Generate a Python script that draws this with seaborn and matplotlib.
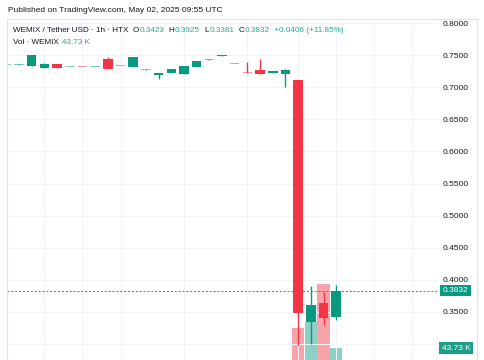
import matplotlib
matplotlib.use("Agg")
import matplotlib.pyplot as plt
import matplotlib.transforms as mtransforms
from matplotlib.lines import Line2D
import seaborn as sns
import numpy as np

# hourly candles, WEMIX / Tether USD (HTX)
opens = [0.7346, 0.7345, 0.7330, 0.7299, 0.7360, 0.7309, 0.7311, 0.7309, 0.7440,
         0.7329, 0.7320, 0.7272, 0.7190, 0.7217, 0.7200, 0.7310, 0.7428, 0.7486,
         0.7356, 0.7218, 0.7263, 0.7217, 0.7200, 0.7112, 0.3338, 0.3634, 0.3423]
highs = [0.7350, 0.7362, 0.7508, 0.7381, 0.7362, 0.7313, 0.7313, 0.7313, 0.7475,
         0.7333, 0.7470, 0.7276, 0.7220, 0.7286, 0.7333, 0.7414, 0.7432, 0.7509,
         0.7360, 0.7388, 0.7435, 0.7250, 0.7276, 0.7112, 0.3903, 0.3815, 0.3925]
lows = [0.7342, 0.7340, 0.7327, 0.7296, 0.7297, 0.7307, 0.7307, 0.7307, 0.7277,
        0.7327, 0.7318, 0.7270, 0.7123, 0.7215, 0.7198, 0.7308, 0.7426, 0.7484,
        0.7354, 0.7215, 0.7204, 0.7215, 0.6998, 0.2984, 0.3000, 0.3296, 0.3381]
closes = [0.7348, 0.7347, 0.7505, 0.7360, 0.7300, 0.7311, 0.7309, 0.7311, 0.7280,
          0.7331, 0.7466, 0.7274, 0.7217, 0.7283, 0.7330, 0.7410, 0.7430, 0.7506,
          0.7358, 0.7216, 0.7206, 0.7248, 0.7273, 0.3478, 0.3607, 0.3410, 0.3832]
volumes = [0.5] * 23 + [112.7, 136.2, 269.1, 43.73]  # thousands

price_ticks = [0.30, 0.35, 0.40, 0.45, 0.50, 0.55, 0.60, 0.65, 0.70, 0.75, 0.80]
tick_labels = ["", "0.3500", "0.4000", "0.4500", "0.5000", "0.5500", "0.6000",
               "0.6500", "0.7000", "0.7500", "0.8000"]  # 0.3000 sits under the volume tag
grid_idx = [3, 6, 9, 14, 19, 23, 26, 29, 32]
last_price = 0.3832
last_vol = 43.73

header = "Published on TradingView.com, May 02, 2025 09:55 UTC"
legend1 = [("WEMIX / Tether USD · 1h · HTX", "dark"), ("O", "dark"), ("0.3423", "teal"),
           ("H", "dark"), ("0.3925", "teal"), ("L", "dark"), ("0.3381", "teal"),
           ("C", "dark"), ("0.3832", "teal"), ("+0.0406 (+11.85%)", "teal")]
legend2 = [("Vol · WEMIX", "dark"), ("43.73 K", "teal")]

UP = "#089981"
DOWN = "#F23645"
UP_VOL = "#8ED0C5"
DOWN_VOL = "#F8A3A9"
DARK = "#131722"
TEAL_TXT = "#22AB94"
GRID = "#F0F3FA"
BORDER = "#E0E3EB"

sns.set_theme(style="white")
plt.rcParams['font.family'] = ['Liberation Sans', 'DejaVu Sans']

W, H = 485, 360
fig = plt.figure(figsize=(W / 100, H / 100), dpi=100)
fig.patch.set_facecolor("white")
rect = [7 / W, 0, 431 / W, 341 / H]

x = np.arange(len(opens))
o = np.array(opens)
c = np.array(closes)
up = c >= o

# volume pane (behind candles)
ax_vol = fig.add_axes(rect)
ax_vol.bar(x, volumes, width=0.97, color=np.where(up, UP_VOL, DOWN_VOL), linewidth=0)
ax_vol.set_ylim(0, last_vol * 341 / 12.3)
ax_vol.set_xlim(0.055, 34.02)
ax_vol.axis("off")

ax = fig.add_axes(rect, sharex=ax_vol)
ax.patch.set_visible(False)
for gi in grid_idx:
    ax.axvline(gi, color=GRID, lw=0.8, zorder=0)
for t in price_ticks:
    ax.axhline(t, color=GRID, lw=0.8, zorder=0)

cols = np.where(up, UP, DOWN)
ax.vlines(x, lows, highs, colors=cols, lw=1.0, zorder=2)
doji = np.abs(c - o) < 0.0016
body_h = np.maximum(np.abs(c - o), 0.0017)
body_b = np.minimum(o, c)
ax.bar(x[~doji], body_h[~doji], bottom=body_b[~doji], width=0.75, color=cols[~doji],
       linewidth=0, zorder=3)
ax.bar(x[doji], body_h[doji], bottom=body_b[doji], width=0.75, color=cols[doji],
       alpha=0.5, linewidth=0, zorder=3)

ax.axhline(last_price, color=UP, lw=0.7, ls=(0, (2, 2)), zorder=1)

ax.set_ylim(0.8 - (360 - 23) / 642, 0.8 + 4 / 642)
ax.set_xlim(0.055, 34.02)
ax.set_xticks([])
ax.set_yticks(price_ticks)
ax.set_yticklabels(tick_labels)
ax.yaxis.tick_right()
ax.tick_params(axis="y", length=0, pad=3.6, labelsize=6, labelcolor=DARK)
for s in ax.spines.values():
    s.set_visible(False)

blend = mtransforms.blended_transform_factory(ax.transAxes, ax.transData)
ax.text(1.011, last_price, f"{last_price:.4f}", transform=blend, ha="left", va="center",
        fontsize=6, color="white", zorder=10,
        bbox=dict(boxstyle="square,pad=0.28", fc=UP, ec="none"))
blend_v = mtransforms.blended_transform_factory(ax.transAxes, ax_vol.transData)
ax.text(1.009, last_vol * 0.97, f"{last_vol:.2f} K", transform=blend_v,
        ha="left", va="center", fontsize=6, color="white", zorder=10,
        bbox=dict(boxstyle="square,pad=0.3", fc="#1E9E88", ec="none"))

# chart frame
for xs, ys in [([7, 477], [19, 19]), ([7, 7], [19, 360]), ([477, 477], [19, 360])]:
    fig.add_artist(Line2D([v / W for v in xs], [1 - v / H for v in ys],
                          transform=fig.transFigure, color=BORDER, lw=0.8))

fig.text(8 / W, 1 - 11 / H, header, fontsize=6.0, color=DARK, va="center", ha="left")

renderer = fig.canvas.get_renderer()


def chain(x0, yc, parts, gap=4.5):
    xp = x0
    for i, (s, kind) in enumerate(parts):
        t = fig.text(xp / W, 1 - yc / H, s, fontsize=5.9, va="center", ha="left",
                     color=DARK if kind == "dark" else TEAL_TXT)
        bb = t.get_window_extent(renderer)
        nxt = parts[i + 1][1] if i + 1 < len(parts) else None
        xp = bb.x1 + (0.3 if (kind == "dark" and nxt == "teal" and len(s) == 1) else gap)


chain(13, 31, legend1)
chain(13, 42.5, legend2, gap=3)

fig.savefig("out.png", dpi=100)
